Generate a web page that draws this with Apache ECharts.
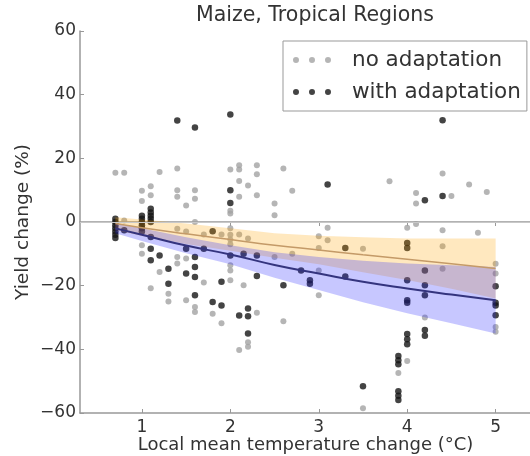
<!DOCTYPE html>
<html>
<head>
<meta charset="utf-8">
<title>Maize, Tropical Regions</title>
<script src="https://cdn.jsdelivr.net/npm/echarts@6/dist/echarts.min.js"></script>
<style>
    html, body { margin: 0; padding: 0; background: #fff; }
    #chart { width: 530px; height: 456px; }
</style>
</head>
<body>
<div id="chart"></div>
<script>
// scatter points: [local temperature change, yield change]
const noAdaptation = [
    [0.7, 15.5], [0.8, 15.5], [1.2, 15.7], [1.4, 16.8], [2.0, 16.5], [2.1, 17.8], [2.1, 16.5],
    [2.3, 17.8], [2.3, 15], [2.6, 16.8], [1.0, 9.8], [1.0, 6.6], [1.1, 11.2], [1.1, 8.4],
    [1.4, 10], [1.4, 7.9], [1.6, 10], [1.6, 7.3], [1.5, 5.2], [2.1, 12.9], [2.2, 11.5],
    [2.1, 7.9], [2.3, 8.4], [2.5, 5.8], [2.7, 9.8], [2.0, 2.7], [2.0, 3.5], [2.5, 2.1],
    [3.8, 12.8], [4.1, 9.1], [4.1, 5.8], [4.4, 15.2], [4.5, 8.2], [4.7, 11.8], [4.9, 9.4],
    [1.6, 0], [0.8, 0.5], [1.0, -1], [1.4, -2.1], [1.5, -3], [1.7, -3.9], [1.9, -3.9],
    [2.0, -2], [2.0, -4], [2.0, -5.5], [2.0, -7], [2.1, -3.9], [2.2, -5.2], [3.0, -4.5],
    [3.1, -1.8], [3.1, -5.7], [3.0, -8.2], [3.5, -8.4], [4.0, -1.8], [4.1, -0.6], [4.4, -2.6],
    [4.8, -3.4], [4.4, -7.6], [4.4, -14.7], [2.7, -10], [2.5, -11], [3.0, -15.2], [3.0, -23],
    [4.2, -30], [5.0, -13.1], [5.0, -16.2], [5.0, -33], [5.0, -34.5], [1.0, -7.3], [1.0, -10],
    [1.1, -20.8], [1.2, -15.7], [1.3, -22.5], [1.3, -25], [1.4, -11], [1.4, -13], [1.5, -11.5],
    [1.5, -24.6], [1.6, -26.7], [1.6, -28.3], [1.7, -19], [1.8, -28.8], [1.9, -31.8],
    [2.0, -13.6], [2.0, -15.2], [2.0, -18.3], [2.15, -19.9], [2.2, -37.8], [2.2, -39.2],
    [2.1, -40.2], [2.3, -28.5], [2.6, -31.2], [3.5, -58.5], [3.9, -47.4], [4.0, -43.7]
];
const withAdaptation = [
    [1.4, 31.9], [1.6, 29.7], [2.0, 33.8], [4.4, 32], [2.0, 10], [2.0, 6], [3.1, 11.8],
    [4.2, 6.8], [4.4, 8.2], [0.7, 1], [0.7, 0], [0.7, -1], [0.7, -2], [0.7, -3], [0.7, -4],
    [0.7, -5], [0.8, -2.6], [1.0, 2], [1.0, 1], [1.0, 0], [1.0, -1], [1.0, -2], [1.0, -3],
    [1.1, 4.2], [1.1, 3], [1.1, 2], [1.1, 1], [1.1, 0], [1.1, -4.7], [1.1, -8.4], [1.1, -12],
    [1.2, -10.5], [1.3, -14.7], [1.3, -19.4], [1.5, -8.4], [1.5, -16.2], [1.6, -11],
    [1.6, -14.1], [1.6, -17.3], [1.6, -23], [1.7, -8.4], [1.8, -2.9], [1.8, -25.1],
    [1.9, -18.8], [1.9, -26.2], [2.0, -10.5], [2.15, -10], [2.3, -10.5], [2.3, -17],
    [2.6, -19.9], [2.8, -15.2], [2.9, -18.3], [2.9, -19.4], [2.1, -29.4], [2.2, -27.2],
    [2.2, -29.6], [2.2, -35], [3.3, -8.2], [3.3, -17.1], [3.5, -51.6], [3.9, -42.1],
    [3.9, -43.4], [3.9, -44.7], [3.9, -53.2], [3.9, -54.6], [3.9, -55.9], [4.0, -6.6],
    [4.0, -8.2], [4.0, -18.3], [4.0, -24.6], [4.0, -25.4], [4.0, -35.2], [4.0, -36.8],
    [4.0, -38.4], [4.2, -15.2], [4.2, -19.9], [4.2, -23], [4.2, -33.9], [4.2, -35.7],
    [5.0, -20.2], [5.0, -25.4], [5.0, -26.2], [5.0, -29.3]
];

// fitted curves and confidence bands
const fitTemps = [0.7, 1, 1.5, 2, 2.5, 3, 3.5, 4, 4.5, 5];
const noAdaptFit = [-0.5, -1.8, -3.7, -5.5, -7.3, -8.8, -10.3, -11.7, -13.1, -14.6];
const noAdaptUpper = [1.5, 0.8, -0.5, -2, -3.5, -4.3, -4.8, -5.2, -5.2, -5.2];
const noAdaptLower = [-2.5, -4.4, -6.9, -9, -11.2, -13.3, -15.8, -18.2, -21, -24];
const withAdaptFit = [-2, -4, -7.4, -10.2, -13.5, -16.2, -18.8, -20.9, -22.8, -24.6];
const withAdaptUpper = [-0.5, -2, -4.8, -7.3, -9.5, -11, -12.2, -13, -13.6, -14.1];
const withAdaptLower = [-3.5, -6, -9.8, -13.3, -17.5, -21.4, -25.2, -28.7, -31.8, -35];

const xTicks = [1, 2, 3, 4, 5];

const font = 'DejaVu Sans';
const minus = v => String(v).replace('-', '\u2212');
const pairs = (xs, ys) => xs.map((x, i) => [x, ys[i]]);

// three little dots, like a matplotlib scatter legend entry
const dotsIcon = 'path://M0,3a3,3 0 1,0 6,0a3,3 0 1,0 -6,0zM16,3a3,3 0 1,0 6,0a3,3 0 1,0 -6,0zM32,3a3,3 0 1,0 6,0a3,3 0 1,0 -6,0z';

// confidence band as one polygon, placed through the axes
function band(name, lower, upper, color) {
    return {
        name: name,
        type: 'custom',
        data: [[fitTemps[0], upper[0]]],
        silent: true,
        clip: true,
        z: 3,
        renderItem: function (params, api) {
            const top = fitTemps.map((t, i) => api.coord([t, upper[i]]));
            const bottom = fitTemps.map((t, i) => api.coord([t, lower[i]])).reverse();
            return {
                type: 'polygon',
                shape: { points: top.concat(bottom) },
                style: { fill: color }
            };
        }
    };
}

const chart = echarts.init(document.getElementById('chart'));
chart.setOption({
    animation: false,
    backgroundColor: '#fff',
    textStyle: { fontFamily: font },
    title: {
        text: 'Maize, Tropical Regions',
        left: 310,
        textAlign: 'center',
        top: 0,
        textStyle: { fontFamily: font, fontSize: 20.5, fontWeight: 'normal', color: '#333' }
    },
    legend: {
        data: [
            { name: 'no adaptation', icon: dotsIcon },
            { name: 'with adaptation', icon: dotsIcon }
        ],
        orient: 'vertical',
        left: 283,
        top: 41,
        padding: [8, 6, 8, 10],
        itemGap: 10,
        itemWidth: 38,
        itemHeight: 6,
        backgroundColor: '#fff',
        borderColor: '#999',
        borderWidth: 1,
        borderRadius: 0,
        formatter: name => '{g|}' + name,
        textStyle: {
            fontFamily: font, fontSize: 21.5, color: '#333', lineHeight: 22,
            rich: { g: { width: 16 } }
        }
    },
    grid: {
        left: 80,
        right: -1,
        top: 31,
        bottom: 43,
        containLabel: false,
        outerBoundsMode: 'none'
    },
    xAxis: [{
        type: 'value',
        min: 0.3,
        max: 5.4,
        name: 'Local mean temperature change (°C)',
        nameLocation: 'middle',
        nameGap: 23,
        nameMoveOverlap: false,
        nameTextStyle: { fontFamily: font, fontSize: 18, color: '#333' },
        axisLine: { show: true, onZero: false, lineStyle: { color: '#999', width: 1.5 } },
        axisTick: { show: true, inside: true, length: 4, customValues: xTicks, lineStyle: { color: '#999' } },
        axisLabel: { customValues: xTicks, margin: 6, fontFamily: font, fontSize: 17, color: '#333' },
        splitLine: { show: false }
    }, {
        type: 'value',
        position: 'top',
        min: 0.3,
        max: 5.4,
        axisLine: { show: true, lineStyle: { color: '#999', width: 1.5 } },
        axisTick: { show: true, inside: true, length: 4, customValues: xTicks, lineStyle: { color: '#999' } },
        axisLabel: { show: false },
        splitLine: { show: false }
    }],
    yAxis: {
        type: 'value',
        min: -60,
        max: 60,
        interval: 20,
        name: 'Yield change (%)',
        nameLocation: 'middle',
        nameGap: 47,
        nameMoveOverlap: false,
        nameTextStyle: { fontFamily: font, fontSize: 18.5, color: '#333' },
        axisLine: { show: true, lineStyle: { color: '#999', width: 1.5 } },
        axisTick: { show: true, inside: true, length: 4, lineStyle: { color: '#999' } },
        axisLabel: { margin: 4, fontFamily: font, fontSize: 17, color: '#333', formatter: minus },
        splitLine: { show: false }
    },
    series: [
        {
            name: 'no adaptation',
            type: 'scatter',
            data: noAdaptation,
            symbolSize: 6,
            itemStyle: { color: '#a3a3a3' },
            z: 2,
            markLine: {
                silent: true,
                symbol: 'none',
                label: { show: false },
                lineStyle: { color: '#c8c8c8', width: 1, type: 'solid' },
                data: [{ yAxis: 0 }]
            }
        },
        {
            name: 'with adaptation',
            type: 'scatter',
            data: withAdaptation,
            symbolSize: 6.5,
            itemStyle: { color: '#151515' },
            z: 2
        },
        band('no adaptation band', noAdaptLower, noAdaptUpper, 'rgba(255,165,0,0.25)'),
        band('with adaptation band', withAdaptLower, withAdaptUpper, 'rgba(40,40,255,0.26)'),
        {
            name: 'no adaptation fit',
            type: 'line',
            data: pairs(fitTemps, noAdaptFit),
            symbol: 'none',
            smooth: true,
            lineStyle: { color: '#c49a68', width: 1.5 },
            silent: true,
            z: 4
        },
        {
            name: 'with adaptation fit',
            type: 'line',
            data: pairs(fitTemps, withAdaptFit),
            symbol: 'none',
            smooth: true,
            lineStyle: { color: '#34347e', width: 2 },
            silent: true,
            z: 4
        }
    ]
});
</script>
</body>
</html>
